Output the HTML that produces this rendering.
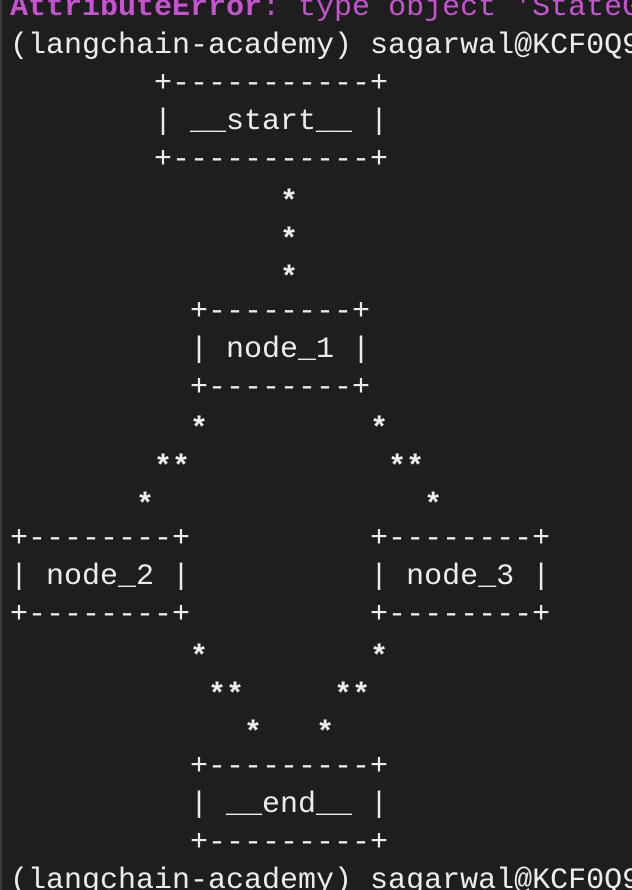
<!DOCTYPE html>
<html><head><meta charset="utf-8"><style>
html,body{margin:0;padding:0;background:#1e1e1e;width:632px;height:890px;overflow:hidden;position:relative}
pre{position:absolute;left:10px;top:-10px;width:622px;overflow:hidden;margin:0;font-family:"Liberation Mono",monospace;font-size:30px;line-height:37.95px;color:#ececec;white-space:pre}
.p{color:#c652d2}
.b{font-weight:bold}
.s{position:relative;top:5px;font-weight:bold}
.edge{position:absolute;left:0;top:0;width:2px;height:890px;background:#3a3a3a}
</style></head><body>
<div class="edge"></div>
<pre><span class="p"><span class="b">AttributeError</span>: type object 'StateG</span>
(langchain-academy) sagarwal@KCF0Q9
        +-----------+
        | __start__ |
        +-----------+
               <span class="s">*</span>
               <span class="s">*</span>
               <span class="s">*</span>
          +--------+
          | node_1 |
          +--------+
          <span class="s">*</span>         <span class="s">*</span>
        <span class="s">**</span>           <span class="s">**</span>
       <span class="s">*</span>               <span class="s">*</span>
+--------+          +--------+
| node_2 |          | node_3 |
+--------+          +--------+
          <span class="s">*</span>         <span class="s">*</span>
           <span class="s">**</span>     <span class="s">**</span>
             <span class="s">*</span>   <span class="s">*</span>
          +---------+
          | __end__ |
          +---------+
(langchain-academy) sagarwal@KCF0Q9</pre>
</body></html>
